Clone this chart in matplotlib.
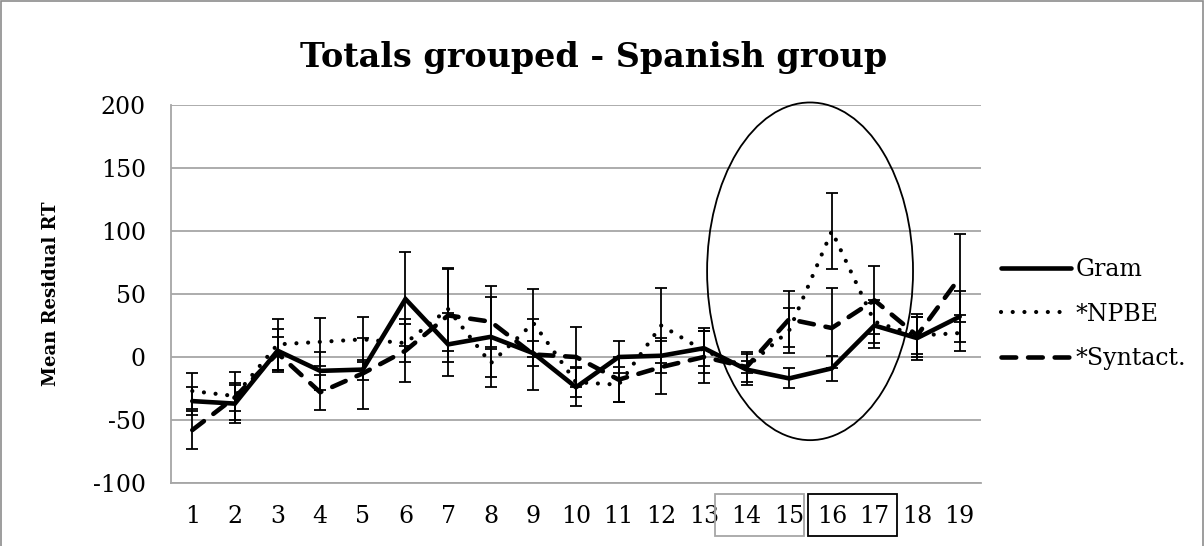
import numpy as np
import matplotlib
matplotlib.use('Agg')
import matplotlib.pyplot as plt
from matplotlib.patches import Ellipse, Rectangle
import matplotlib.transforms as mtransforms

# data
positions = list(range(1, 20))
gram = [-35, -37, 5, -11, -10, 46, 10, 16, 3, -24, 0, 1, 7, -10, -17, -9, 25, 15, 32]
gram_err = [11, 15, 17, 15, 8, 37, 25, 40, 10, 15, 13, 14, 14, 12, 8, 10, 18, 17, 20]
npbe = [-27, -31, 10, 12, 14, 11, 38, -5, 27, -20, -22, 25, 5, -8, 21, 100, 28, 17, 19]
npbe_err = [14, 19, 20, 19, 18, 15, 33, 11, 27, 12, 14, 30, 18, 12, 18, 30, 17, 17, 14]
syntact = [-58, -32, 3, -28, -13, 5, 33, 28, 2, 0, -18, -8, 0, -8, 30, 23, 45, 17, 63]
syntact_err = [15, 11, 13, 14, 28, 25, 37, 20, 28, 24, 18, 21, 21, 5, 22, 32, 27, 15, 35]
yticks = [-100, -50, 0, 50, 100, 150, 200]

serif = 'DejaVu Serif'

fig = plt.figure(figsize=(12.04, 5.46), dpi=100)
ax = fig.add_axes([0.142, 0.1154, 0.6728, 0.6923])

x = np.array(positions)

for vals, errs in [(gram, gram_err), (npbe, npbe_err), (syntact, syntact_err)]:
    ax.errorbar(x, vals, yerr=errs, fmt='none', ecolor='black',
                elinewidth=1.3, capsize=4.5, capthick=1.3, zorder=2)

ax.plot(x, gram, color='black', lw=3.3, solid_capstyle='round',
        solid_joinstyle='miter', label='Gram', zorder=3)
ax.plot(x, npbe, color='black', lw=3.0, linestyle=(0, (0.01, 2.8)),
        dash_capstyle='round', label='*NPBE', zorder=3)
ax.plot(x, syntact, color='black', lw=3.3, linestyle=(0, (3.2, 2.6)),
        dash_capstyle='round', label='*Syntact.', zorder=3)

# highlight ellipse
ax.add_patch(Ellipse((15.49, 68), 4.83, 268, fill=False, edgecolor='black',
                     lw=1.3, zorder=4, clip_on=False))

ax.set_xlim(0.5, 19.5)
ax.set_ylim(-100, 200)
ax.set_yticks(yticks)
ax.set_xticks(x)
ax.set_xticklabels([str(p) for p in positions], fontsize=17, family=serif)
ax.set_yticklabels([str(t) for t in yticks], fontsize=17, family=serif)
ax.tick_params(axis='y', length=0, pad=18)
ax.tick_params(axis='x', length=0, pad=16)
ax.grid(axis='y', color='#a6a6a6', lw=1.3)
ax.set_axisbelow(True)
for s in ['top', 'right']:
    ax.spines[s].set_visible(False)
ax.spines['left'].set_color('#a6a6a6')
ax.spines['bottom'].set_color('#a6a6a6')
ax.spines['left'].set_linewidth(1.3)
ax.spines['bottom'].set_linewidth(1.3)

ax.set_ylabel('Mean Residual RT', fontsize=13, fontweight='bold', family=serif, labelpad=24)
fig.text(0.493, 0.895, 'Totals grouped - Spanish group', ha='center', va='center',
         fontsize=24, fontweight='bold', family=serif)

# boxes around tick labels
trans = mtransforms.blended_transform_factory(ax.transData, ax.transAxes)
ax.add_patch(Rectangle((13.26, -0.14), 2.09, 0.111, transform=trans, fill=False,
                       edgecolor='#a6a6a6', lw=1.3, clip_on=False))
ax.add_patch(Rectangle((15.44, -0.14), 2.09, 0.111, transform=trans, fill=False,
                       edgecolor='black', lw=1.3, clip_on=False))

leg = ax.legend(loc='center left', bbox_to_anchor=(0.999, 0.447), frameon=False,
                prop={'family': serif, 'size': 17}, handlelength=2.95,
                handletextpad=0.2, labelspacing=0.92)

# outer chart border
fig.patches.append(Rectangle((0.001, -0.05), 0.998, 1.048, transform=fig.transFigure,
                             fill=False, edgecolor='#8c8c8c', lw=1.2))

fig.savefig('out.png', dpi=100)
